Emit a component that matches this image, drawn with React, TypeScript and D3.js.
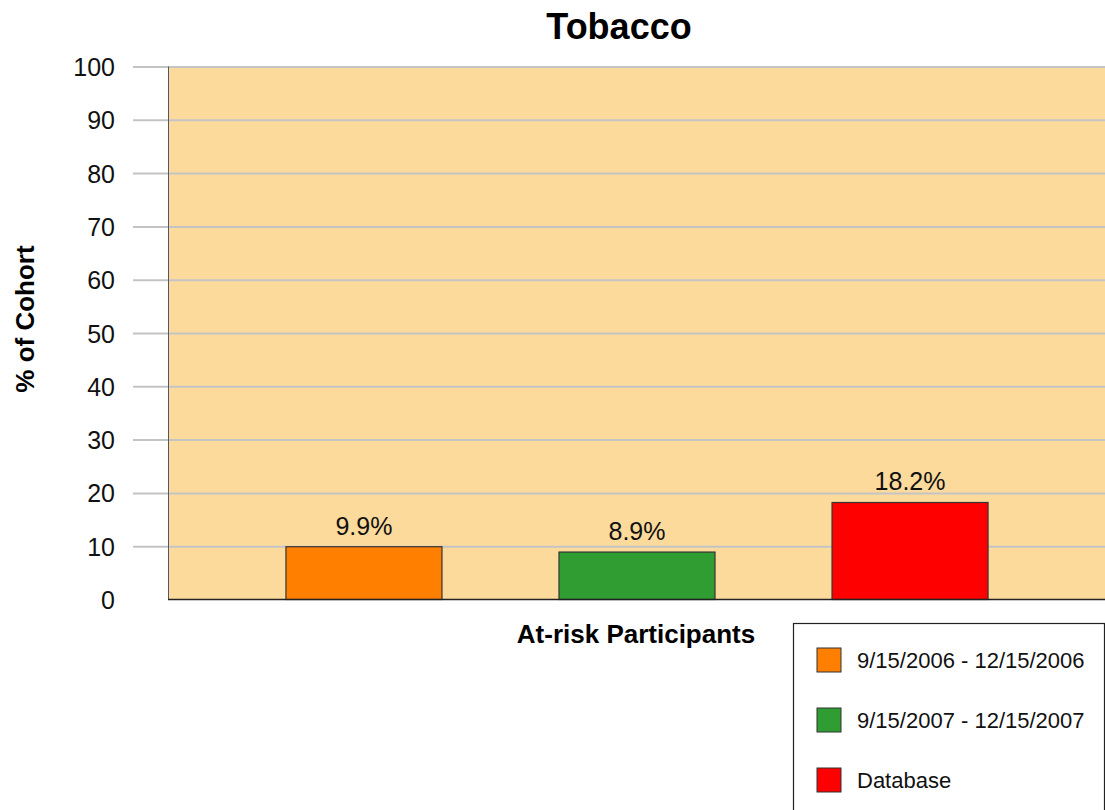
import React, { useRef, useEffect } from "react";
import * as d3 from "d3";

const title = "Tobacco";
const categoryLabel = "At-risk Participants";
const yLabel = "% of Cohort";
const seriesNames = ["9/15/2006 - 12/15/2006", "9/15/2007 - 12/15/2007", "Database"];
const seriesValues = [9.9, 8.9, 18.2];
const seriesColors = ["#ff8000", "#2f9d31", "#ff0000"];
const yTicks = [0, 10, 20, 30, 40, 50, 60, 70, 80, 90, 100];

const App = () => {
  const svgRef = useRef<SVGSVGElement>(null);

  useEffect(() => {
    const W = 1105;
    const H = 810;
    const margin = { top: 66.5, right: -1, bottom: 210.5, left: 168 };
    const plotW = W - margin.left - margin.right;
    const plotH = H - margin.top - margin.bottom;
    const font = "'Liberation Sans', Arial, sans-serif";

    const svg = d3.select(svgRef.current).attr("width", W).attr("height", H);
    svg.selectAll("*").remove();

    svg.append("rect").attr("width", W).attr("height", H).attr("fill", "white");

    const chart = svg
      .append("g")
      .attr("transform", `translate(${margin.left}, ${margin.top})`);

    const x = d3
      .scaleBand()
      .domain(seriesNames)
      .range([0, plotW])
      .paddingInner(0.4286)
      .paddingOuter(0.432);

    const y = d3.scaleLinear().domain([0, 100]).range([plotH, 0]);

    // plot background
    chart
      .append("rect")
      .attr("x", 0)
      .attr("y", 0)
      .attr("width", plotW)
      .attr("height", plotH)
      .attr("fill", "#fcda9c");

    // gridlines + tick labels
    const yAxis = d3
      .axisLeft(y)
      .tickValues(yTicks)
      .tickSize(-(plotW + 35))
      .tickPadding(0)
      .tickFormat((d) => String(d));

    const yg = chart.append("g").attr("transform", "translate(-35,0)").call(yAxis);
    yg.select(".domain").remove();
    yg.selectAll(".tick line")
      .attr("stroke", "#c4c4c4")
      .attr("stroke-width", 2)
      .filter((d) => d === 0)
      .remove();
    yg.selectAll(".tick text")
      .attr("x", -18)
      .attr("dy", "0.36em")
      .attr("font-family", font)
      .attr("font-size", 25)
      .attr("fill", "#111");

    // left axis line
    chart
      .append("line")
      .attr("x1", 0.5)
      .attr("x2", 0.5)
      .attr("y1", 0)
      .attr("y2", plotH)
      .attr("stroke", "#555566")
      .attr("stroke-width", 1);

    // bars
    chart
      .selectAll(".bar")
      .data(seriesNames)
      .enter()
      .append("rect")
      .attr("class", "bar")
      .attr("x", (d) => x(d)!)
      .attr("y", (d, i) => y(seriesValues[i]))
      .attr("width", x.bandwidth())
      .attr("height", (d, i) => plotH - y(seriesValues[i]))
      .attr("fill", (d, i) => seriesColors[i])
      .attr("stroke", "#333")
      .attr("stroke-width", 1.2);

    // value labels
    chart
      .selectAll(".val")
      .data(seriesNames)
      .enter()
      .append("text")
      .attr("x", (d) => x(d)! + x.bandwidth() / 2)
      .attr("y", (d, i) => y(seriesValues[i]) - 12)
      .attr("text-anchor", "middle")
      .attr("font-family", font)
      .attr("font-size", 25)
      .attr("fill", "#111")
      .text((d, i) => `${seriesValues[i]}%`);

    // bottom axis line
    chart
      .append("line")
      .attr("x1", 0)
      .attr("x2", plotW)
      .attr("y1", plotH)
      .attr("y2", plotH)
      .attr("stroke", "#222")
      .attr("stroke-width", 1.5);

    // title
    svg
      .append("text")
      .attr("x", 619)
      .attr("y", 39)
      .attr("text-anchor", "middle")
      .attr("font-family", font)
      .attr("font-weight", "bold")
      .attr("font-size", 36)
      .text(title);

    // axis titles
    svg
      .append("text")
      .attr("transform", `translate(34, 319) rotate(-90)`)
      .attr("text-anchor", "middle")
      .attr("font-family", font)
      .attr("font-weight", "bold")
      .attr("font-size", 26)
      .text(yLabel);

    svg
      .append("text")
      .attr("x", margin.left + x.range()[1] / 2 - 1)
      .attr("y", 643)
      .attr("text-anchor", "middle")
      .attr("font-family", font)
      .attr("font-weight", "bold")
      .attr("font-size", 26)
      .text(categoryLabel);

    // legend
    const legend = svg.append("g").attr("transform", "translate(793, 623)");
    legend
      .append("rect")
      .attr("x", 0.5)
      .attr("y", 0.5)
      .attr("width", 311)
      .attr("height", 200)
      .attr("fill", "white")
      .attr("stroke", "#222")
      .attr("stroke-width", 1.2);

    const items = legend
      .selectAll(".item")
      .data(seriesNames)
      .enter()
      .append("g")
      .attr("transform", (d, i) => `translate(24, ${25 + i * 60})`);

    items
      .append("rect")
      .attr("width", 24)
      .attr("height", 24)
      .attr("fill", (d, i) => seriesColors[i])
      .attr("stroke", "#333")
      .attr("stroke-width", 1);

    items
      .append("text")
      .attr("x", 40)
      .attr("y", 20)
      .attr("font-family", font)
      .attr("font-size", 22)
      .attr("fill", "#111")
      .text((d) => d);
  }, []);

  return (
    <svg
      ref={svgRef}
      style={{ position: "absolute", left: 0, top: 0, display: "block" }}
    ></svg>
  );
};

export default App;
